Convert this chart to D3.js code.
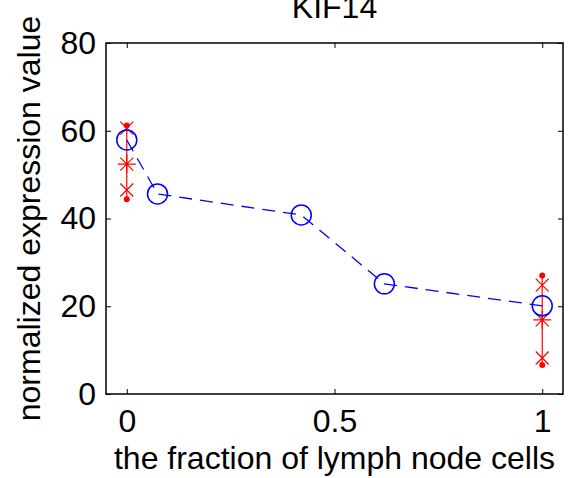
<!DOCTYPE html>
<html>
<head>
<meta charset="utf-8">
<script src="https://cdn.jsdelivr.net/npm/d3@7"></script>
<style>
  body { margin: 0; background: #fff; }
  text { font-family: "Liberation Sans", Arial, sans-serif; }
</style>
</head>
<body>
<svg id="chart" width="568" height="478"></svg>
<script>
// mean curve (blue circles)
var meanX = [0, 0.074, 0.42, 0.62, 1];
var meanY = [57.9, 45.6, 40.8, 25.1, 20.1];

// replicate spread at the two ends (red)
var grpX   = [0, 1];
var grpMax = [61.2, 27.0];
var grpMin = [44.4, 6.6];
var grpHi  = [60.6, 24.8];   // x markers
var grpLo  = [46.5, 8.2];    // x markers
var grpMed = [52.4, 16.9];   // asterisks

var xTicks = [0, 0.5, 1];
var yTicks = [0, 20, 40, 60, 80];

var svg = d3.select("#chart"),
    margin = {top: 43, right: 5, bottom: 84, left: 106},
    width = +svg.attr("width") - margin.left - margin.right,
    height = +svg.attr("height") - margin.top - margin.bottom,
    g = svg.append("g").attr("transform", "translate(" + margin.left + "," + margin.top + ")");

var x = d3.scaleLinear().domain([-0.05, 1.05]).range([0, width]),
    y = d3.scaleLinear().domain([0, 80]).range([height, 0]);

var fs = "32px";

// axes box with inward ticks
g.append("g")
    .attr("transform", "translate(0," + height + ")")
    .call(d3.axisBottom(x).tickValues(xTicks).tickSizeInner(-5).tickSizeOuter(0).tickPadding(15).tickFormat(d3.format("")))
    .call(function(a) { a.select(".domain").remove(); });
g.append("g")
    .call(d3.axisTop(x).tickValues(xTicks).tickSizeInner(-5).tickSizeOuter(0).tickFormat(""))
    .call(function(a) { a.select(".domain").remove(); });
g.append("g")
    .call(d3.axisLeft(y).tickValues(yTicks).tickSizeInner(-5).tickSizeOuter(0).tickPadding(10))
    .call(function(a) { a.select(".domain").remove(); });
g.append("g")
    .attr("transform", "translate(" + width + ",0)")
    .call(d3.axisRight(y).tickValues(yTicks).tickSizeInner(-5).tickSizeOuter(0).tickFormat(""))
    .call(function(a) { a.select(".domain").remove(); });

g.selectAll(".tick line").attr("stroke", "#000").attr("stroke-width", 1);
g.selectAll(".tick text").style("font-size", fs).attr("fill", "#000")
    .style("font-family", "'Liberation Sans', Arial, sans-serif");

g.append("rect")
    .attr("width", width).attr("height", height)
    .attr("fill", "none").attr("stroke", "#000").attr("stroke-width", 1.5);

// red vertical ranges
g.selectAll(".range").data(grpX).enter().append("line")
    .attr("x1", function(d) { return x(d); })
    .attr("x2", function(d) { return x(d); })
    .attr("y1", function(d, i) { return y(grpMax[i]); })
    .attr("y2", function(d, i) { return y(grpMin[i]); })
    .attr("stroke", "#ff0000").attr("stroke-width", 1.2);

var red = "#ff0000";
function xMark(sel, vals) {
  var s = 6.5;
  grpX.forEach(function(d, i) {
    var cx = x(d), cy = y(vals[i]);
    g.append("path")
        .attr("d", "M" + (cx - s) + "," + (cy - s) + "L" + (cx + s) + "," + (cy + s) +
                   "M" + (cx - s) + "," + (cy + s) + "L" + (cx + s) + "," + (cy - s))
        .attr("stroke", red).attr("stroke-width", 1.2).attr("fill", "none");
  });
}
xMark(g, grpHi);
xMark(g, grpLo);

// asterisks
grpX.forEach(function(d, i) {
  var cx = x(d), cy = y(grpMed[i]), s = 7, t = 6.5;
  g.append("path")
      .attr("d", "M" + (cx - s - 2) + "," + cy + "L" + (cx + s + 2) + "," + cy +
                 "M" + cx + "," + (cy - s - 2) + "L" + cx + "," + (cy + s + 2) +
                 "M" + (cx - t) + "," + (cy - t) + "L" + (cx + t) + "," + (cy + t) +
                 "M" + (cx - t) + "," + (cy + t) + "L" + (cx + t) + "," + (cy - t))
      .attr("stroke", red).attr("stroke-width", 1.2).attr("fill", "none");
});

// end dots
[grpMax, grpMin].forEach(function(arr) {
  g.selectAll(null).data(grpX).enter().append("circle")
      .attr("cx", function(d) { return x(d); })
      .attr("cy", function(d, i) { return y(arr[i]); })
      .attr("r", 3).attr("fill", red);
});

// blue dashed mean line
var line = d3.line()
    .x(function(d, i) { return x(meanX[i]); })
    .y(function(d) { return y(d); });
g.append("path")
    .datum(meanY)
    .attr("d", line)
    .attr("fill", "none").attr("stroke", "#0000ff").attr("stroke-width", 1.3)
    .attr("stroke-dasharray", "13,8");

g.selectAll(".pt").data(meanY).enter().append("circle")
    .attr("cx", function(d, i) { return x(meanX[i]); })
    .attr("cy", function(d) { return y(d); })
    .attr("r", 10)
    .attr("fill", "none").attr("stroke", "#0000ff").attr("stroke-width", 1.5);

// labels
svg.append("text")
    .attr("x", margin.left + width / 2).attr("y", 18)
    .attr("text-anchor", "middle").style("font-size", fs).attr("fill", "#000")
    .text("KIF14");

svg.append("text")
    .attr("x", margin.left + width / 2).attr("y", 469)
    .attr("text-anchor", "middle").style("font-size", fs).attr("fill", "#000")
    .text("the fraction of lymph node cells");

svg.append("text")
    .attr("transform", "translate(40," + (margin.top + height / 2) + ") rotate(-90)")
    .attr("text-anchor", "middle").style("font-size", fs).attr("fill", "#000")
    .text("normalized expression value");
</script>
</body>
</html>
